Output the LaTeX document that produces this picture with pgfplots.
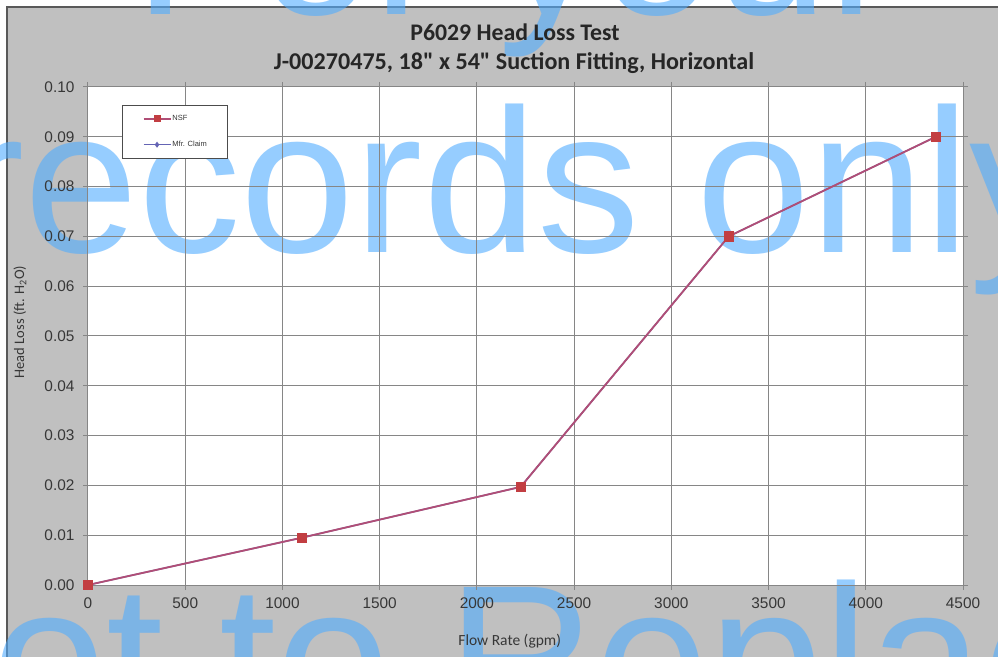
\documentclass[border=0pt]{standalone}
\usepackage{pgfplots}
\pgfplotsset{compat=1.18}
\usepackage{fontspec}
\setmainfont{Carlito}
\newfontfamily\calibnm{Carlito}
\newfontfamily\arialf{Liberation Sans}
\definecolor{chartbg}{RGB}{192,192,192}
\definecolor{gridc}{RGB}{134,134,134}
\definecolor{nsfline}{RGB}{176,78,118}
\definecolor{nsfmark}{RGB}{194,62,66}
\definecolor{mfrline}{RGB}{100,100,180}
\definecolor{wm}{RGB}{80,172,255}
\definecolor{ticktext}{RGB}{55,55,55}

\begin{document}
\begin{tikzpicture}
\path[use as bounding box] (0pt,0pt) rectangle (998pt,656pt);
\clip (0pt,0pt) rectangle (998pt,656pt);
\fill[white] (0pt,0pt) rectangle (998pt,656pt);
\draw[fill=chartbg, draw=black!65, line width=1.5pt] (7pt,-20pt) rectangle (1020pt,649pt);
% plot area background
\fill[white] (88pt,71pt) rectangle (963pt,569pt);
% watermark (below chart contents)
\node[anchor=base west, inner sep=0pt, font=\arialf\fontsize{205}{240}\selectfont, text=wm, text opacity=0.6] at (134pt,641pt) {For your};
\node[anchor=base west, inner sep=0pt, font=\arialf\fontsize{205}{240}\selectfont, text=wm, text opacity=0.6] at (-44pt,403pt) {records only};
\node[anchor=base west, inner sep=0pt, font=\arialf\fontsize{205}{240}\selectfont, text=wm, text opacity=0.6] at (-156pt,-72pt) {Not to Replace};
% titles
\node[anchor=base, inner sep=0pt, font=\calibnm\bfseries\fontsize{23.8}{28}\selectfont, text=black!85] at (515pt,615pt) {P6029 Head Loss Test};
\node[anchor=base, inner sep=0pt, font=\calibnm\bfseries\fontsize{24.1}{28}\selectfont, text=black!85] at (514pt,586pt) {J-00270475, 18" x 54" Suction Fitting, Horizontal};

\begin{axis}[
  at={(88pt,71pt)}, anchor=south west,
  width=875pt, height=498pt, scale only axis,
  xmin=0, xmax=4500, ymin=0, ymax=0.1,
  axis line style={gridc, line width=1pt},
  grid=major,
  major grid style={gridc, line width=1pt},
  tick style={gridc, line width=1pt},
  tick align=outside, major tick length=5pt,
  xtick={0,500,1000,1500,2000,2500,3000,3500,4000,4500},
  ytick={0,0.01,0.02,0.03,0.04,0.05,0.06,0.07,0.08,0.09,0.1},
  yticklabel style={/pgf/number format/.cd, fixed, fixed zerofill, precision=2, /tikz/.cd, xshift=-5pt},
  xticklabel style={/pgf/number format/.cd, fixed, 1000 sep={}, /tikz/.cd, yshift=-4pt},
  /pgf/number format/assume math mode=true,
  tick label style={font=\arialf\fontsize{15.4}{18}\selectfont, text=ticktext},
  xlabel={Flow Rate (gpm)},
  ylabel={Head Loss (ft. H\textsubscript{2}O)},
  every axis x label/.style={at={(axis description cs:0.482,-0.1205)}, anchor=base, font=\fontsize{15.5}{18}\selectfont, text=ticktext},
  every axis y label/.style={at={(axis description cs:-0.0777,0.528)}, rotate=90, anchor=center, font=\fontsize{14.5}{17}\selectfont, text=ticktext},
  legend style={at={(axis description cs:0.0389,0.964)}, anchor=north west, draw=black!70, line width=1.2pt, fill=white,
    font=\arialf\fontsize{7.5}{9}\selectfont, text=ticktext, inner xsep=20pt, inner ysep=9pt, row sep=17pt,
    nodes={inner sep=1pt}},
  legend cell align=left,
  reverse legend,
]
\addplot[mfrline, line width=1.5pt, mark=diamond*, mark size=2pt, mark options={fill=mfrline, draw=mfrline},
  legend image code/.code={\draw[mark repeat=2,mark phase=2, mark size=1.8pt] plot coordinates {(0pt,0pt) (13.5pt,0pt) (27pt,0pt)};}]
  coordinates {(0,0) (1100,0.0095) (2225,0.0197) (3295,0.07) (4360,0.09)};
\addlegendentry{Mfr. Claim}
\addplot[nsfline, line width=1.8pt, mark=square*, mark size=4.7pt, mark options={fill=nsfmark, draw=nsfmark, line width=0.8pt},
  legend image code/.code={\draw[mark repeat=2,mark phase=2, mark size=3pt] plot coordinates {(0pt,0pt) (13.5pt,0pt) (27pt,0pt)};}]
  coordinates {(0,0) (1100,0.0095) (2225,0.0197) (3295,0.07) (4360,0.09)};
\addlegendentry{NSF}
\end{axis}
\end{tikzpicture}
\end{document}
